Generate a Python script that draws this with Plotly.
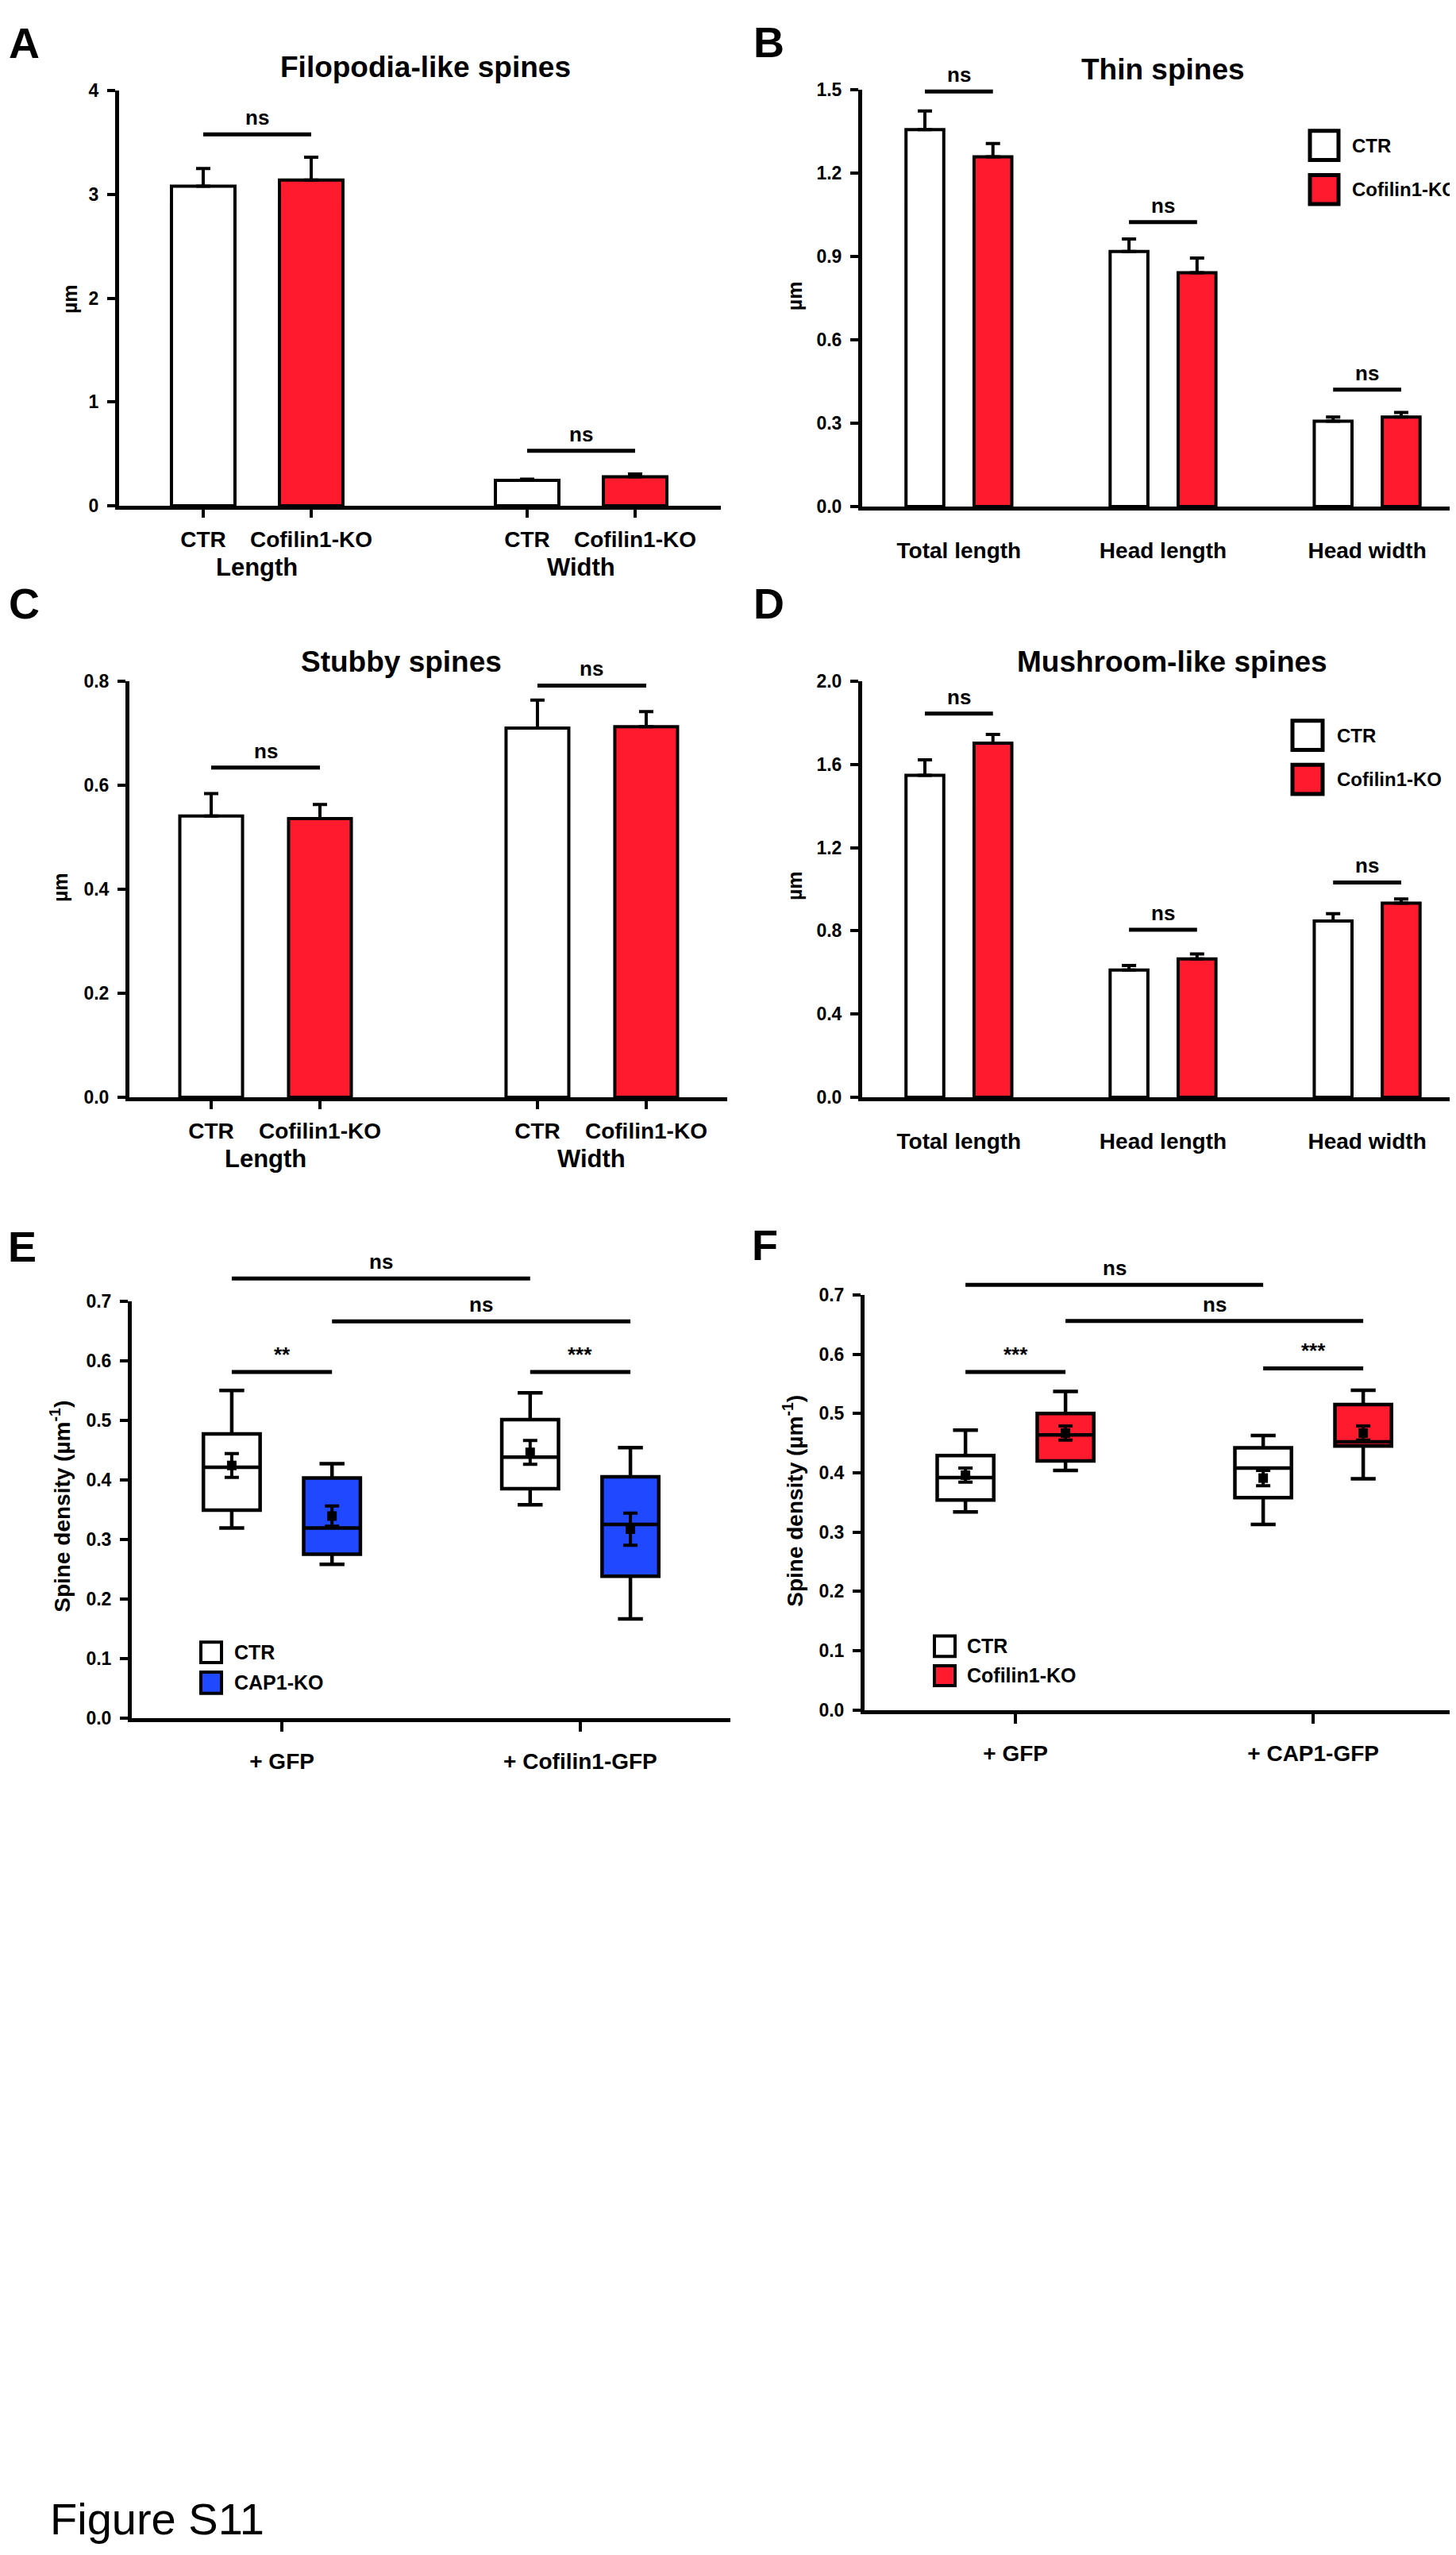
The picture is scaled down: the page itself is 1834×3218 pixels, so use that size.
import plotly.graph_objects as go

W, H = 1834, 3218
RED = "#FF1A2E"
BLUE = "#2048FF"
FONT = "Liberation Sans, Arial, Helvetica, sans-serif"

# ---------------- data ----------------
series_names = ["CTR", "Cofilin1-KO"]

A_groups = ["Length", "Width"]
A_ctr = [3.08, 0.245]
A_ctr_err = [0.17, 0.012]
A_ko = [3.14, 0.28]
A_ko_err = [0.22, 0.025]
A_sig = [3.58, 0.53]

B_groups = ["Total length", "Head length", "Head width"]
B_ctr = [1.357, 0.918, 0.307]
B_ctr_err = [0.067, 0.045, 0.015]
B_ko = [1.259, 0.842, 0.322]
B_ko_err = [0.048, 0.053, 0.017]
B_sig = [1.494, 1.024, 0.421]

C_groups = ["Length", "Width"]
C_ctr = [0.541, 0.710]
C_ctr_err = [0.043, 0.054]
C_ko = [0.536, 0.713]
C_ko_err = [0.027, 0.029]
C_sig = [0.634, 0.792]

D_groups = ["Total length", "Head length", "Head width"]
D_ctr = [1.548, 0.612, 0.847]
D_ctr_err = [0.075, 0.022, 0.036]
D_ko = [1.703, 0.665, 0.933]
D_ko_err = [0.042, 0.024, 0.020]
D_sig = [1.845, 0.805, 1.033]

E_groups = ["+ GFP", "+ Cofilin1-GFP"]
E_series = ["CTR", "CAP1-KO"]
E_ctr_low = [0.319, 0.358]
E_ctr_q1 = [0.349, 0.385]
E_ctr_med = [0.421, 0.438]
E_ctr_q3 = [0.477, 0.501]
E_ctr_high = [0.550, 0.546]
E_ctr_mean = [0.424, 0.446]
E_ctr_sem = [0.020, 0.020]
E_ko_low = [0.258, 0.166]
E_ko_q1 = [0.275, 0.238]
E_ko_med = [0.319, 0.325]
E_ko_q3 = [0.403, 0.405]
E_ko_high = [0.427, 0.454]
E_ko_mean = [0.339, 0.317]
E_ko_sem = [0.017, 0.027]
E_sig_labels = ["ns", "ns", "**", "***"]
E_sig_heights = [0.738, 0.666, 0.581, 0.581]
E_sig_pairs = [(0, 2), (1, 3), (0, 1), (2, 3)]

F_groups = ["+ GFP", "+ CAP1-GFP"]
F_series = ["CTR", "Cofilin1-KO"]
F_ctr_low = [0.334, 0.313]
F_ctr_q1 = [0.354, 0.358]
F_ctr_med = [0.392, 0.408]
F_ctr_q3 = [0.429, 0.442]
F_ctr_high = [0.472, 0.463]
F_ctr_mean = [0.396, 0.391]
F_ctr_sem = [0.012, 0.013]
F_ko_low = [0.404, 0.390]
F_ko_q1 = [0.420, 0.445]
F_ko_med = [0.464, 0.452]
F_ko_q3 = [0.500, 0.515]
F_ko_high = [0.537, 0.539]
F_ko_mean = [0.467, 0.467]
F_ko_sem = [0.012, 0.012]
F_sig_labels = ["ns", "ns", "***", "***"]
F_sig_heights = [0.717, 0.656, 0.570, 0.576]
F_sig_pairs = [(0, 2), (1, 3), (0, 1), (2, 3)]

# ---------------- layout helpers ----------------
def px(x):
    return x / W


def py(y):
    return 1 - y / H


fig = go.Figure()
shapes = []
annotations = []
layout_axes = {}

axis_common = dict(showgrid=False, zeroline=False, showline=True, linecolor="black",
                   linewidth=5, tickcolor="black", tickwidth=4, fixedrange=True,
                   layer="above traces")


def add_axes(n, left, right, top, bottom, xr, yr, dtick, fmt, xticks):
    xk = "xaxis" if n == 1 else f"xaxis{n}"
    yk = "yaxis" if n == 1 else f"yaxis{n}"
    ya = "y" if n == 1 else f"y{n}"
    xa = "x" if n == 1 else f"x{n}"
    xd = dict(axis_common, domain=[px(left), px(right)], range=xr, anchor=ya,
              tickfont=dict(family=FONT, size=28, color="black", weight="bold"))
    xd.update(xticks)
    yd = dict(axis_common, domain=[py(bottom), py(top)], range=yr, anchor=xa,
              ticks="outside", ticklen=10, dtick=dtick, tick0=0, tickformat=fmt,
              ticklabelstandoff=6,
              tickfont=dict(family=FONT, size=23, color="black", weight="bold"))
    layout_axes[xk] = xd
    layout_axes[yk] = yd
    return xa, ya


def text(x, y, s, size, xref="paper", yref="paper", angle=0, xanchor="center",
         yanchor="middle", bold=True, yshift=0):
    annotations.append(dict(x=x, y=y, xref=xref, yref=yref, text=s, showarrow=False,
                            textangle=angle, xanchor=xanchor, yanchor=yanchor, yshift=yshift,
                            font=dict(family=FONT, size=size, color="black",
                                      weight="bold" if bold else "normal")))


def sig(xa, ya, x0, x1, h, ymax, label):
    yd = ya + " domain"
    shapes.append(dict(type="line", xref=xa, yref=yd, x0=x0, x1=x1, y0=h / ymax, y1=h / ymax,
                       line=dict(color="black", width=5)))
    shift = 21 if label == "ns" else 22
    text((x0 + x1) / 2, h / ymax, label, 26, xref=xa, yref=yd, yshift=shift)


def legend(bx0, bx1, boxes, tx, names, colors, size, lw):
    for (y0, y1), name, col in zip(boxes, names, colors):
        shapes.append(dict(type="rect", xref="paper", yref="paper", x0=px(bx0), x1=px(bx1),
                           y0=py(y1), y1=py(y0), fillcolor=col,
                           line=dict(color="black", width=lw)))
        text(px(tx), py((y0 + y1) / 2), name, size, xanchor="left")


def bar_panel(n, geom, groups, ctr, ctr_err, ko, ko_err, sigh, ymax, dtick, fmt,
              style, barw, title, title_xy, ylab_xy, letter, letter_xy):
    left, right, top, bottom = geom
    ng = len(groups)
    if style == "AC":
        pc = [1 + 3 * g for g in range(ng)]
        pk = [2 + 3 * g for g in range(ng)]
        xr = [0.221 if n == 1 else 0.248, 5.794 if n == 1 else 5.745]
        xt = dict(ticks="outside", ticklen=10, tickvals=pc + pk,
                  ticktext=[series_names[0]] * ng + [series_names[1]] * ng,
                  ticklabelstandoff=3)
    else:
        pc = [3 * g for g in range(ng)]
        pk = [3 * g + 1 for g in range(ng)]
        xr = [-0.922, 7.876]
        xt = dict(ticks="", tickvals=[p + 0.5 for p in pc], ticktext=groups,
                  ticklabelstandoff=26)
    xa, ya = add_axes(n, left, right, top, bottom, xr, [0, ymax], dtick, fmt, xt)
    for pos, vals, errs, col, name in [(pc, ctr, ctr_err, "white", series_names[0]),
                                       (pk, ko, ko_err, RED, series_names[1])]:
        fig.add_trace(go.Bar(x=pos, y=vals, width=barw, name=name, showlegend=False,
                             xaxis=xa, yaxis=ya,
                             marker=dict(color=col, line=dict(color="black", width=4)),
                             error_y=dict(type="data", array=errs, arrayminus=[0] * len(errs),
                                          symmetric=False, color="black", thickness=4, width=9)))
    for g in range(ng):
        sig(xa, ya, pc[g], pk[g], sigh[g], ymax, "ns")
    if style == "AC":
        for g in range(ng):
            text((pc[g] + pk[g]) / 2, py(bottom + 78), groups[g], 31, xref=xa)
    text(px(title_xy[0]), py(title_xy[1]), title, 37)
    text(px(ylab_xy[0]), py(ylab_xy[1]), "µm", 25, angle=-90)
    text(px(letter_xy[0]), py(letter_xy[1]), letter, 54)


bar_panel(1, (142, 900, 94, 621), A_groups, A_ctr, A_ctr_err, A_ko, A_ko_err, A_sig, 4, 1, "d",
          "AC", 0.588, "Filopodia-like spines", (528, 64), (80, 359), "A", (22, 33))
bar_panel(2, (1078, 1832, 93, 622), B_groups, B_ctr, B_ctr_err, B_ko, B_ko_err, B_sig, 1.5, 0.3,
          ".1f", "BD", 0.555, "Thin spines", (1457, 67), (993, 355), "B", (960, 32))
bar_panel(3, (155, 908, 844, 1372), C_groups, C_ctr, C_ctr_err, C_ko, C_ko_err, C_sig, 0.8, 0.2,
          ".1f", "AC", 0.577, "Stubby spines", (497, 819), (68, 1106), "C", (22, 745))
bar_panel(4, (1078, 1832, 844, 1372), D_groups, D_ctr, D_ctr_err, D_ko, D_ko_err, D_sig, 2.0, 0.4,
          ".1f", "BD", 0.555, "Mushroom-like spines", (1468, 819), (993, 1104), "D", (960, 745))

legend(1642, 1678, [(145, 182), (201, 238)], 1693, series_names, ["white", RED], 24, 5)
legend(1620, 1658, [(894, 931), (950, 987)], 1674, series_names, ["white", RED], 24, 5)


def box_panel(n, geom, xr, groups, series, ko_color, ctr_stats, ko_stats, sig_labels,
              sig_heights, sig_pairs, letter, letter_xy, ylab_xy, legend_geom):
    left, right, top, bottom = geom
    off = 0.168
    xt = dict(ticks="outside", ticklen=12, tickvals=[1, 2], ticktext=groups,
              ticklabelstandoff=14)
    xa, ya = add_axes(n, left, right, top, bottom, xr, [0, 0.7], 0.1, ".1f", xt)
    pos_c = [g + 1 - off for g in range(len(groups))]
    pos_k = [g + 1 + off for g in range(len(groups))]
    for pos, st, col, name in [(pos_c, ctr_stats, "white", series[0]),
                               (pos_k, ko_stats, ko_color, series[1])]:
        low, q1, med, q3, high, mean, sem = st
        fig.add_trace(go.Box(x=pos, q1=q1, median=med, q3=q3, lowerfence=low, upperfence=high,
                             width=0.19, whiskerwidth=0.44, fillcolor=col, boxpoints=False,
                             line=dict(color="black", width=4.5), name=name, showlegend=False,
                             xaxis=xa, yaxis=ya))
        fig.add_trace(go.Scatter(x=pos, y=mean, mode="markers", showlegend=False,
                                 xaxis=xa, yaxis=ya,
                                 marker=dict(symbol="square", size=12, color="black"),
                                 error_y=dict(type="data", array=sem, color="black",
                                              thickness=4, width=9)))
    allpos = [pos_c[0], pos_k[0], pos_c[1], pos_k[1]]
    for lab, h, (i, j) in zip(sig_labels, sig_heights, sig_pairs):
        sig(xa, ya, allpos[i], allpos[j], h, 0.7, lab)
    text(px(letter_xy[0]), py(letter_xy[1]), letter, 54)
    text(px(ylab_xy[0]), py(ylab_xy[1]), "Spine density (µm<sup>-1</sup>)", 28, angle=-90)
    bx0, bx1, boxes, tx = legend_geom
    legend(bx0, bx1, boxes, tx, series, ["white", ko_color], 25, 4)


box_panel(5, (158, 912, 1631, 2160), [0.497, 2.503], E_groups, E_series, BLUE,
          (E_ctr_low, E_ctr_q1, E_ctr_med, E_ctr_q3, E_ctr_high, E_ctr_mean, E_ctr_sem),
          (E_ko_low, E_ko_q1, E_ko_med, E_ko_q3, E_ko_high, E_ko_mean, E_ko_sem),
          E_sig_labels, E_sig_heights, E_sig_pairs, "E", (20, 1562), (68, 1892),
          (245, 271, [(2064, 2090), (2102, 2129)], 285))
box_panel(6, (1081, 1834, 1623, 2150), [0.493, 2.501], F_groups, F_series, RED,
          (F_ctr_low, F_ctr_q1, F_ctr_med, F_ctr_q3, F_ctr_high, F_ctr_mean, F_ctr_sem),
          (F_ko_low, F_ko_q1, F_ko_med, F_ko_q3, F_ko_high, F_ko_mean, F_ko_sem),
          F_sig_labels, F_sig_heights, F_sig_pairs, "F", (956, 1560), (991, 1885),
          (1169, 1195, [(2056, 2082), (2094, 2119)], 1208))

text(px(53), py(3177), "Figure S11", 56, xanchor="left", bold=False)

fig.update_layout(width=W, height=H, autosize=False, margin=dict(l=0, r=0, t=0, b=0),
                  paper_bgcolor="white", plot_bgcolor="white", barmode="overlay",
                  boxmode="overlay", showlegend=False, shapes=shapes,
                  annotations=annotations, **layout_axes)

fig.write_html("out.html")
